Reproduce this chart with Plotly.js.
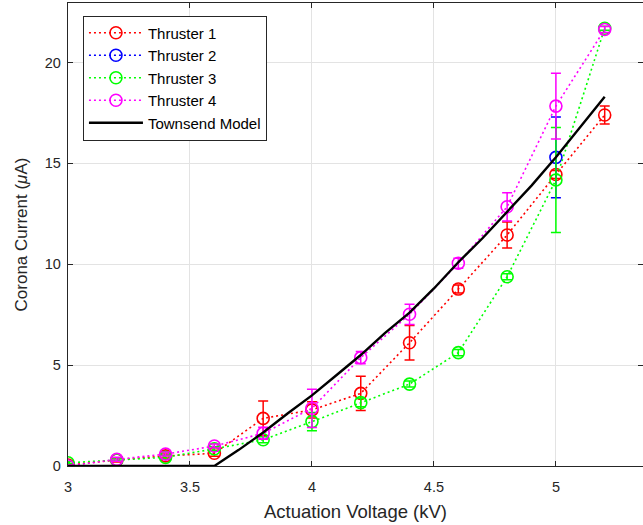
<!DOCTYPE html>
<html>
<head>
<meta charset="utf-8">
<script src="https://cdn.plot.ly/plotly-3.0.1.min.js"></script>
<style>html,body{margin:0;padding:0;background:#fff;}#chart{width:643px;height:525px;}</style>
</head>
<body>
<div id="chart"></div>
<script>
// Data
const voltage = [3.0, 3.2, 3.4, 3.6, 3.8, 4.0, 4.2, 4.4, 4.6, 4.8, 5.0, 5.2];

const t1 = [0.05, 0.3, 0.5, 0.63, 2.36, 2.78, 3.6, 6.11, 8.77, 11.45, 14.45, 17.4];
const t1err = [0.05, 0.1, 0.1, 0.15, 0.86, 0.4, 0.85, 0.86, 0.2, 0.65, 0.2, 0.45];

const t2x = [5.0];
const t2 = [15.3];
const t2err = [2.0];

const t3 = [0.16, 0.3, 0.43, 0.85, 1.3, 2.2, 3.14, 4.06, 5.62, 9.38, 14.18, 21.7];
const t3err = [0.05, 0.05, 0.1, 0.1, 0.15, 0.45, 0.2, 0.15, 0.15, 0.15, 2.6, 0.1];

const t4 = [0.0, 0.33, 0.59, 0.99, 1.62, 2.86, 5.37, 7.52, 10.05, 12.85, 17.84, 21.64];
const t4err = [0.05, 0.1, 0.1, 0.1, 0.3, 0.95, 0.3, 0.5, 0.25, 0.7, 1.63, 0.15];

const modelV = [3.0, 3.6, 3.7, 3.8, 3.9, 4.0, 4.1, 4.2, 4.3, 4.4, 4.5, 4.6, 4.7, 4.8, 4.9, 5.0, 5.1, 5.2];
const modelI = [0, 0, 0.8, 1.66, 2.6, 3.5, 4.5, 5.5, 6.6, 7.6, 8.8, 10.1, 11.3, 12.6, 13.9, 15.3, 16.8, 18.3];

const xTicks = [3, 3.5, 4, 4.5, 5];
const yTicks = [0, 5, 10, 15, 20];

function series(name, x, y, err, color) {
  return {
    type: 'scatter', mode: 'lines+markers', name: name,
    x: x, y: y,
    error_y: {type: 'data', array: err, visible: true, color: color, thickness: 1.5, width: 5},
    line: {color: color, dash: '2px,3px', width: 1.6},
    marker: {symbol: 'circle-open', size: 12, color: color, line: {width: 1.6, color: color}}
  };
}

const traces = [
  series('Thruster 1', voltage, t1, t1err, '#ff0000'),
  series('Thruster 2', t2x, t2, t2err, '#0000ff'),
  series('Thruster 3', voltage, t3, t3err, '#00ff00'),
  series('Thruster 4', voltage, t4, t4err, '#ff00ff'),
  {type: 'scatter', mode: 'lines', name: 'Townsend Model', x: modelV, y: modelI,
   line: {color: '#000000', width: 2.4}}
];

const FAM = 'Liberation Sans, Arial, sans-serif';
const tickFont = {family: FAM, size: 14.5, color: '#262626'};

const layout = {
  width: 643, height: 525,
  margin: {l: 68, r: 0, t: 3, b: 59},
  paper_bgcolor: '#ffffff', plot_bgcolor: '#ffffff',
  font: tickFont,
  showlegend: true,
  legend: {
    x: 0.026, y: 0.973, xanchor: 'left', yanchor: 'top',
    bgcolor: '#ffffff', bordercolor: '#262626', borderwidth: 1,
    font: {family: FAM, size: 15, color: '#000000'},
    tracegroupgap: 0, itemwidth: 54
  },
  xaxis: {
    range: [3, 5.357], tickvals: xTicks, ticktext: xTicks.map(String),
    showgrid: true, gridcolor: '#e3e3e3', gridwidth: 1,
    showline: true, linecolor: '#262626', linewidth: 1.3, mirror: 'ticks',
    ticks: 'inside', ticklen: 5, tickcolor: '#262626', tickwidth: 1,
    ticklabelstandoff: 7,
    zeroline: false, tickfont: tickFont,
    title: {text: 'Actuation Voltage (kV)', font: {family: FAM, size: 18.5, color: '#262626'}, standoff: 11}
  },
  yaxis: {
    range: [0, 22.95], tickvals: yTicks, ticktext: yTicks.map(String),
    showgrid: true, gridcolor: '#e3e3e3', gridwidth: 1,
    showline: true, linecolor: '#262626', linewidth: 1.3, mirror: 'ticks',
    ticks: 'inside', ticklen: 5, tickcolor: '#262626', tickwidth: 1,
    ticklabelstandoff: 3,
    zeroline: false, tickfont: tickFont,
    title: {text: 'Corona Current (<i>μ</i>A)', font: {family: FAM, size: 17, color: '#262626'}, standoff: 12}
  }
};

Plotly.newPlot('chart', traces, layout, {displayModeBar: false, staticPlot: true});
</script>
</body>
</html>
